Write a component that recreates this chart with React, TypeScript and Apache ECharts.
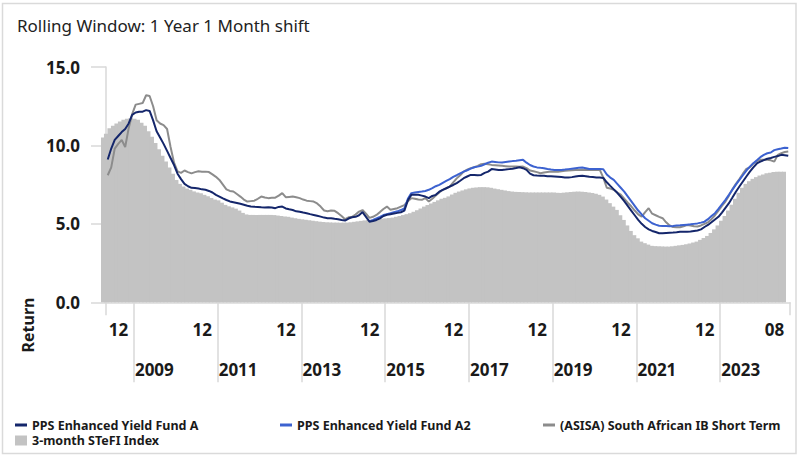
import React, { useEffect, useRef } from "react";
import * as echarts from "echarts";

// May 2008 .. Aug 2024, monthly (196 points)
const START_YEAR = 2008;
const START_MONTH = 5;

const fundA = [
  9.1, 9.8, 10.35, 10.6, 10.85, 11.05, 11.4, 11.95,
  12.1, 12.15, 12.15, 12.25, 12.2, 11.6, 10.9, 10.5, 10.1, 9.65, 9.2, 8.75,
  8.2, 7.85, 7.55, 7.4, 7.3, 7.28, 7.25, 7.2, 7.17, 7.1, 7.0, 6.85,
  6.74, 6.62, 6.52, 6.43, 6.38, 6.33, 6.28, 6.22, 6.16, 6.11, 6.09, 6.08,
  6.06, 6.05, 6.06, 6.04, 6.0, 6.08, 6.1, 5.98, 5.93, 5.88, 5.8, 5.77,
  5.72, 5.68, 5.62, 5.57, 5.52, 5.46, 5.4, 5.36, 5.36, 5.32, 5.3, 5.25,
  5.21, 5.34, 5.42, 5.45, 5.55, 5.75, 5.45, 5.14, 5.18, 5.25, 5.35, 5.5,
  5.58, 5.62, 5.66, 5.7, 5.74, 5.84, 6.5, 6.85, 6.86, 6.85, 6.8, 6.74,
  6.64, 6.78, 6.85, 7.05, 7.17, 7.27, 7.38, 7.48, 7.6, 7.75, 7.91, 8.02,
  8.12, 8.12, 8.1, 8.12, 8.25, 8.33, 8.49, 8.47, 8.44, 8.44, 8.46, 8.49,
  8.52, 8.56, 8.61, 8.55, 8.44, 8.2, 8.1, 8.08, 8.07, 8.06, 8.04, 8.03,
  8.02, 8.0, 7.98, 7.96, 7.95, 7.98, 8.02, 8.05, 8.06, 8.04, 8.0, 7.98,
  7.96, 7.95, 7.93, 7.65, 7.42, 7.2, 6.98, 6.72, 6.45, 6.15, 5.85, 5.55,
  5.25, 5.0, 4.8, 4.65, 4.55, 4.48, 4.4, 4.4, 4.42, 4.44, 4.45, 4.47,
  4.5, 4.5, 4.5, 4.52, 4.55, 4.58, 4.65, 4.8, 4.93, 5.1, 5.28, 5.45,
  5.72, 6.02, 6.32, 6.68, 7.05, 7.38, 7.7, 8.02, 8.33, 8.6, 8.85, 8.97,
  9.06, 9.15, 9.2, 9.27, 9.32, 9.4, 9.38, 9.34,
];

const fundA2 = [
  null, null, null, null, null, null, null, null,
  null, null, null, null, null, null, null, null, null, null, null, null,
  null, null, null, null, null, null, null, null, null, null, null, null,
  null, null, null, null, null, null, null, null, null, null, null, null,
  null, null, null, null, null, null, null, null, null, null, null, null,
  null, null, null, null, null, null, null, null, null, null, null, null,
  null, null, null, null, null, null, null, 5.16, 5.25, 5.35, 5.45, 5.56,
  5.62, 5.68, 5.75, 5.8, 5.88, 5.98, 6.6, 6.96, 7.0, 7.03, 7.06, 7.1,
  7.17, 7.28, 7.4, 7.49, 7.62, 7.74, 7.85, 8.0, 8.1, 8.22, 8.33, 8.42,
  8.52, 8.61, 8.65, 8.7, 8.8, 8.9, 8.97, 8.95, 8.92, 8.91, 8.94, 8.97,
  9.0, 9.02, 9.05, 9.08, 8.9, 8.75, 8.66, 8.6, 8.57, 8.55, 8.5, 8.46,
  8.44, 8.44, 8.44, 8.46, 8.49, 8.52, 8.55, 8.57, 8.59, 8.55, 8.5, 8.49,
  8.49, 8.49, 8.48, 8.15, 7.95, 7.8, 7.55, 7.3, 7.05, 6.75, 6.45, 6.15,
  5.85, 5.6, 5.36, 5.2, 5.04, 4.95, 4.88, 4.87, 4.86, 4.85, 4.87, 4.9,
  4.91, 4.93, 4.95, 4.97, 5.0, 5.03, 5.08, 5.14, 5.3, 5.5, 5.68, 5.95,
  6.25, 6.53, 6.85, 7.18, 7.5, 7.8, 8.1, 8.4, 8.65, 8.87, 9.05, 9.25,
  9.4, 9.5, 9.55, 9.7, 9.76, 9.8, 9.85, 9.83,
];

const asisaShortTerm = [
  8.1, 8.6, 9.8, 10.1, 10.35, 9.9, 11.1, 12.0,
  12.6, 12.65, 12.7, 13.2, 13.15, 12.5, 11.6, 11.4, 11.3, 11.05, 9.9, 8.9,
  8.35, 8.25, 8.4, 8.3, 8.22, 8.3, 8.35, 8.33, 8.33, 8.3, 8.15, 8.0,
  7.8, 7.5, 7.2, 7.1, 7.06, 6.9, 6.74, 6.55, 6.42, 6.45, 6.48, 6.6,
  6.74, 6.68, 6.64, 6.66, 6.67, 6.8, 6.96, 6.7, 6.72, 6.74, 6.7, 6.64,
  6.55, 6.48, 6.45, 6.42, 6.3, 6.1, 5.85, 5.8, 5.85, 5.83, 5.68, 5.5,
  5.3, 5.42, 5.45, 5.6, 5.78, 5.88, 5.65, 5.38, 5.45, 5.57, 5.75, 5.95,
  6.1, 5.9, 5.95, 6.0, 6.1, 6.2, 6.45, 6.64, 6.6, 6.55, 6.53, 6.64,
  6.42, 6.6, 6.8, 7.0, 7.17, 7.27, 7.38, 7.65, 7.9, 8.1, 8.33, 8.45,
  8.55, 8.61, 8.7, 8.8, 8.83, 8.8, 8.76, 8.74, 8.72, 8.7, 8.68, 8.65,
  8.66, 8.65, 8.64, 8.65, 8.55, 8.4, 8.35, 8.3, 8.23, 8.27, 8.3, 8.33,
  8.33, 8.32, 8.35, 8.38, 8.4, 8.42, 8.43, 8.44, 8.45, 8.44, 8.44, 8.45,
  8.44, 8.44, 7.95, 7.3, 7.25, 7.17, 7.0, 6.86, 6.6, 6.35, 6.12, 5.85,
  5.6, 5.46, 5.75, 6.0, 5.65, 5.55, 5.45, 5.36, 5.1, 4.9, 4.8, 4.79,
  4.79, 4.85, 4.93, 4.9, 4.85, 4.83, 4.9, 5.0, 5.1, 5.3, 5.55, 5.85,
  6.15, 6.42, 6.8, 7.2, 7.55, 7.85, 8.2, 8.5, 8.6, 8.85, 9.0, 9.08,
  9.08, 9.08, 9.05, 8.97, 9.4, 9.5, 9.58, 9.61,
];

const stefi = [
  10.5, 10.75, 11.1, 11.25, 11.4, 11.52, 11.63, 11.7,
  11.74, 11.7, 11.63, 11.45, 11.25, 10.9, 10.55, 10.15, 9.75, 9.35, 8.97, 8.6,
  8.2, 7.8, 7.55, 7.38, 7.25, 7.17, 7.07, 7.0, 6.95, 6.85, 6.76, 6.65,
  6.55, 6.5, 6.35, 6.21, 6.12, 6.05, 5.97, 5.85, 5.7, 5.6, 5.57, 5.57,
  5.57, 5.57, 5.57, 5.57, 5.57, 5.56, 5.53, 5.5, 5.47, 5.45, 5.4, 5.36,
  5.32, 5.29, 5.26, 5.23, 5.2, 5.17, 5.14, 5.12, 5.1, 5.09, 5.08, 5.08,
  5.07, 5.08, 5.08, 5.1, 5.13, 5.16, 5.19, 5.22, 5.25, 5.27, 5.29, 5.31,
  5.33, 5.35, 5.37, 5.4, 5.45, 5.5, 5.56, 5.62, 5.68, 5.77, 5.87, 5.98,
  6.1, 6.2, 6.3, 6.4, 6.5, 6.6, 6.66, 6.75, 6.87, 6.98, 7.06, 7.13,
  7.2, 7.26, 7.3, 7.32, 7.34, 7.34, 7.33, 7.3, 7.25, 7.21, 7.17, 7.13,
  7.09, 7.06, 7.04, 7.03, 7.02, 7.01, 7.0, 7.0, 7.0, 7.0, 7.0, 7.0,
  7.0, 7.0, 6.98, 6.97, 6.99, 7.01, 7.03, 7.05, 7.06, 7.05, 7.03, 7.0,
  6.97, 6.92, 6.85, 6.74, 6.55, 6.32, 6.1, 5.89, 5.55, 5.25, 4.9, 4.55,
  4.28, 4.08, 3.87, 3.77, 3.68, 3.6, 3.58, 3.57, 3.56, 3.55, 3.55, 3.57,
  3.6, 3.63, 3.66, 3.7, 3.75, 3.81, 3.87, 3.98, 4.1, 4.23, 4.42, 4.65,
  4.9, 5.2, 5.5, 5.85, 6.22, 6.6, 6.98, 7.3, 7.55, 7.72, 7.87, 7.98,
  8.08, 8.15, 8.22, 8.26, 8.3, 8.33, 8.33, 8.33,
];

const yearLabels = ["2009", "2011", "2013", "2015", "2017", "2019", "2021", "2023"];
const seriesNames = [
  "PPS Enhanced Yield Fund A",
  "PPS Enhanced Yield Fund A2",
  "(ASISA) South African IB Short Term",
  "3-month STeFI Index",
];
const seriesColors = ["#14266b", "#3c62d0", "#8c8c8c", "#c3c3c3"];

const FONT = "'Noto Sans', 'Open Sans', sans-serif";

export default function App() {
  const ref = useRef<HTMLDivElement>(null);

  useEffect(() => {
    if (!ref.current) return;
    const chart = echarts.init(ref.current, undefined, { renderer: "svg" });

    const n = fundA.length;
    const months: string[] = [];
    for (let k = 0; k < n; k++) {
      const m0 = START_MONTH - 1 + k;
      const y = START_YEAR + Math.floor(m0 / 12);
      const m = (m0 % 12) + 1;
      months.push(`${y}-${m < 10 ? "0" + m : m}`);
    }
    const boundaries: string[] = [];
    for (let k = 0; k <= n; k++) boundaries.push(k < n ? months[k] : "end");

    const isMonthLabel = (i: number) => {
      if (i === n - 1) return true;
      const [y, m] = months[i].split("-");
      return m === "12" && Number(y) % 2 === 0;
    };
    const yearBoundary = (k: number) => {
      if (k >= n) return -1;
      const [y, m] = months[k].split("-");
      if (m !== "01" || Number(y) % 2 === 0) return -1;
      return yearLabels.indexOf(y);
    };

    const axisText = {
      fontFamily: FONT,
      fontWeight: "bold" as const,
      fontSize: 17,
      color: "#1a1a1a",
    };

    const legendText = {
      fontFamily: FONT,
      fontWeight: "bold" as const,
      fontSize: 12.5,
      color: "#1a1a1a",
    };

    const lineLegend = (idx: number, left: number) => ({
      left,
      top: 418.5,
      padding: 0,
      itemWidth: 12,
      itemHeight: 3,
      icon: "rect",
      textStyle: legendText,
      data: [seriesNames[idx]],
    });

    chart.setOption({
      animation: false,
      backgroundColor: "#ffffff",
      title: {
        text: "Rolling Window: 1 Year 1 Month shift",
        left: 17,
        top: 17,
        padding: 0,
        textStyle: { fontFamily: FONT, fontSize: 17, fontWeight: "normal", color: "#222222" },
      },
      graphic: [
        {
          type: "rect",
          shape: { x: 2.5, y: 3.5, width: 793.5, height: 450 },
          style: { fill: "none", stroke: "#dadada", lineWidth: 1.5 },
          silent: true,
        },
        {
          type: "text",
          x: 28,
          y: 325,
          rotation: Math.PI / 2,
          style: {
            text: "Return",
            align: "center",
            verticalAlign: "middle",
            fontFamily: FONT,
            fontWeight: "bold",
            fontSize: 16,
            fill: "#1a1a1a",
          },
        },
      ],
      legend: [
        lineLegend(0, 15),
        lineLegend(1, 280),
        lineLegend(2, 543),
        {
          left: 15,
          top: 434,
          padding: 0,
          itemWidth: 12,
          itemHeight: 10,
          icon: "rect",
          textStyle: legendText,
          data: [seriesNames[3]],
        },
      ],
      grid: [
        { left: 106, width: 684, top: 67, height: 235.3 },
        { left: 101, width: 685, top: 67, height: 235.3 },
      ],
      xAxis: [
        {
          type: "category",
          gridIndex: 0,
          position: "bottom",
          data: months,
          boundaryGap: true,
          axisLine: { show: true, lineStyle: { color: "#d9d9d9", width: 1.5 } },
          axisTick: {
            show: true,
            interval: (i: number) => i === 0,
            length: 13,
            lineStyle: { color: "#d9d9d9", width: 1.5 },
          },
          axisLabel: {
            ...axisText,
            interval: (i: number) => isMonthLabel(i),
            formatter: (v: string) => v.split("-")[1],
            align: "right",
            padding: [0, 4, 0, 0],
            margin: 19,
          },
          splitLine: { show: false },
        },
        {
          type: "category",
          gridIndex: 0,
          position: "bottom",
          data: boundaries,
          boundaryGap: false,
          axisLine: { show: false },
          axisTick: {
            show: true,
            interval: (k: number) => yearBoundary(k) >= 0,
            length: 80,
            lineStyle: { color: "#d9d9d9", width: 1.5 },
          },
          axisLabel: {
            ...axisText,
            interval: (k: number) => yearBoundary(k) >= 0,
            formatter: (_v: string, k: number) => {
              const idx = yearBoundary(k);
              return idx >= 0 ? yearLabels[idx] : "";
            },
            align: "left",
            padding: [0, 0, 0, 1],
            margin: 59,
          },
          splitLine: { show: false },
        },
        {
          type: "category",
          gridIndex: 1,
          data: months,
          boundaryGap: true,
          show: false,
        },
      ],
      yAxis: [
        {
          type: "value",
          gridIndex: 0,
          min: 0,
          max: 15,
          interval: 5,
          axisLine: { show: true, lineStyle: { color: "#d9d9d9", width: 1.5 } },
          axisTick: { show: true, length: 15, lineStyle: { color: "#d9d9d9", width: 1.5 } },
          axisLabel: {
            ...axisText,
            margin: 26,
            formatter: (v: number) => v.toFixed(1),
          },
          splitLine: { show: false },
        },
        {
          type: "value",
          gridIndex: 1,
          min: 0,
          max: 15,
          interval: 5,
          show: false,
          splitLine: { show: false },
        },
      ],
      series: [
        {
          name: seriesNames[3],
          type: "bar",
          xAxisIndex: 2,
          yAxisIndex: 1,
          data: stefi,
          barWidth: 4.6,
          barGap: "-100%",
          itemStyle: { color: seriesColors[3] },
          z: 2,
        },
        {
          name: seriesNames[2],
          type: "line",
          xAxisIndex: 0,
          yAxisIndex: 0,
          data: asisaShortTerm,
          symbol: "none",
          lineStyle: { color: seriesColors[2], width: 2 },
          itemStyle: { color: seriesColors[2] },
          z: 3,
        },
        {
          name: seriesNames[1],
          type: "line",
          xAxisIndex: 0,
          yAxisIndex: 0,
          data: fundA2,
          symbol: "none",
          connectNulls: false,
          lineStyle: { color: seriesColors[1], width: 2 },
          itemStyle: { color: seriesColors[1] },
          z: 4,
        },
        {
          name: seriesNames[0],
          type: "line",
          xAxisIndex: 0,
          yAxisIndex: 0,
          data: fundA,
          symbol: "none",
          lineStyle: { color: seriesColors[0], width: 2 },
          itemStyle: { color: seriesColors[0] },
          z: 5,
        },
      ],
    });

    return () => chart.dispose();
  }, []);

  return (
    <div
      ref={ref}
      style={{ position: "fixed", left: 0, top: 0, width: 799, height: 457, background: "#fff" }}
    />
  );
}
